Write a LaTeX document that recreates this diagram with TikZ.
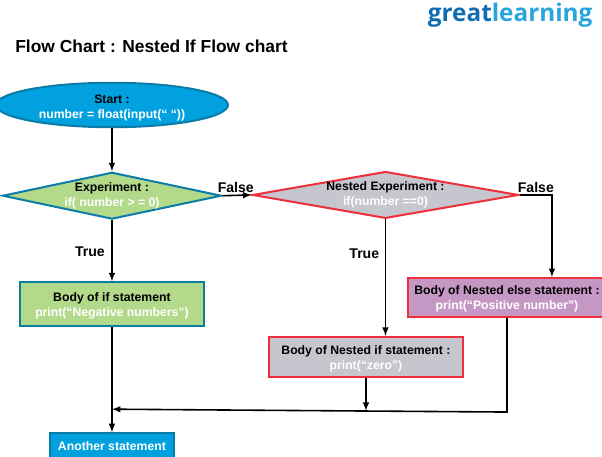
\documentclass[tikz,border=0pt]{standalone}
\usepackage{fontspec}
\setmainfont{Liberation Sans}
\newfontfamily\logofont{Open Sans}
\usetikzlibrary{positioning,shapes.geometric}
\definecolor{startblue}{HTML}{00A1DE}
\definecolor{edgeblue}{HTML}{0B7BA7}
\definecolor{leafgreen}{HTML}{B3D98B}
\definecolor{nestgrey}{HTML}{C5C6CE}
\definecolor{nestred}{HTML}{EE2E3A}
\definecolor{elsepurple}{HTML}{C597C4}
\definecolor{logodark}{HTML}{0F6DB1}
\definecolor{logolight}{HTML}{29A5DE}
\newcommand{\lowered}[1]{\rule{0pt}{#1}}

\begin{document}
\begin{tikzpicture}[
    >=latex,
    every edge/.style={->, draw, line width=1.2pt},
    every node/.style={font=\bfseries\fontsize{9.2}{11.25}\selectfont, align=center, line width=1.5pt},
    flowbox/.style={draw, rectangle, inner sep=0pt},
    flowtest/.style={draw, diamond, inner sep=-2pt},
    wordlabel/.style={font=\bfseries\fontsize{10.6}{12}\selectfont, inner sep=0pt}]

    \clip (0,0) rectangle (15.93,-12.09);

    \node [anchor=west, inner sep=0pt, font=\bfseries\fontsize{13.1}{15}\selectfont] (title) at (0.38,-1.22) {Flow Chart : Nested If Flow chart};
    \node [inner sep=0pt, font=\logofont\bfseries\fontsize{18.3}{20}\selectfont] (logo) at (13.5,-0.4) {\textcolor{logodark}{great}\textcolor{logolight}{learning}};

    \node [draw=edgeblue, fill=startblue, ellipse, inner sep=0pt, minimum width=6.14cm, minimum height=1.11cm] (start) at (2.963,-2.778) {\lowered{10.5pt}Start :\\\textcolor{white}{number = float(input(“ “))}};
    \node [flowtest, draw=edgeblue, fill=leafgreen, shape aspect=4.66, minimum width=5.79cm, minimum height=1.24cm, below=1.14 of start] (expt) {Experiment :\\\textcolor{white}{if( number > = 0)}} edge[<-] (start);
    \node [flowtest, draw=nestred, fill=nestgrey, shape aspect=5.66, minimum width=7.04cm, minimum height=1.24cm, right=0.77 of expt, yshift=0.02cm] (nest) {Nested Experiment :\\\textcolor{white}{if(number ==0)}};
    \node [flowbox, draw=edgeblue, fill=leafgreen, minimum width=4.87cm, minimum height=1.16cm, below=1.62 of expt] (ifbody) {\lowered{8.5pt}Body of if statement\\\textcolor{white}{print(“Negative numbers”)}} edge[<-] (expt);
    \node [flowbox, draw=edgeblue, fill=startblue, minimum width=3.28cm, minimum height=0.7cm, below=2.78 of ifbody] (other) {\textcolor{white}{Another statement}} edge[<-] (ifbody);
    \node [flowbox, draw=nestred, fill=nestgrey, minimum width=5.13cm, minimum height=1.06cm] (nestif) at (9.684,-9.446) {\lowered{9pt}Body of Nested if statement :\\\textcolor{white}{print(“zero”)}};
    \node [flowbox, draw=nestred, fill=elsepurple, minimum width=5.24cm, minimum height=1.03cm] (nestelse) at (13.415,-7.872) {\lowered{9pt}Body of Nested else statement :\\\textcolor{white}{print(“Positive number”)}};

    \node [wordlabel] (falsea) at (6.24,-4.97) {False};
    \node [wordlabel] (falseb) at (14.18,-4.97) {False};
    \node [wordlabel] (truea) at (2.38,-6.67) {True};
    \node [wordlabel] (trueb) at (9.64,-6.72) {True};

    % free ends of the connectors
    \coordinate (elsein) at ([xshift=1.19cm]nestelse.north);
    \coordinate (merge) at ([yshift=-2.17cm]ifbody.south);
    \coordinate (corner) at ([yshift=-2.49cm]nestelse.south);
    \coordinate (joinif) at ([yshift=-0.87cm]nestif.south);

    \draw [->, line width=1.2pt] (expt.east) -- (nest.west);
    \draw [->, line width=1.2pt] (nest.south) -- (nest.south |- nestif.north);
    \draw [->, line width=1.2pt] (nest.east) -| (elsein);
    \draw [->, line width=1.2pt] (nestif.south) -- (joinif);
    \draw [->, line width=1.2pt] (nestelse.south) -- (corner) -- (merge);

\end{tikzpicture}
\end{document}
